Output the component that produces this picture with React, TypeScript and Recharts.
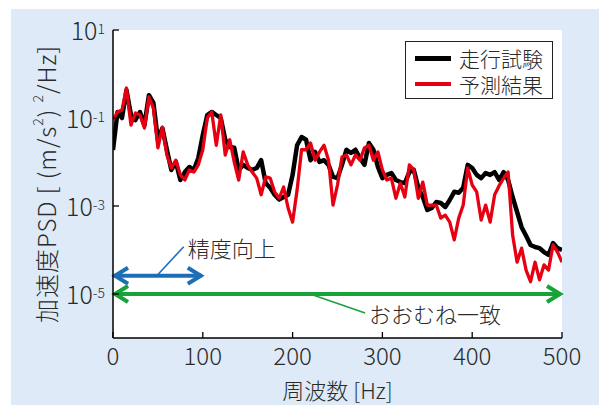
import React from "react";
import { LineChart, Line, XAxis, YAxis, CartesianGrid, Legend, ReferenceLine } from "recharts";

// frequency [Hz]
const freq = [
  0, 5, 10, 15, 20, 25, 30, 35, 40, 45,
  50, 55, 60, 65, 70, 75, 80, 85, 90, 95,
  100, 105, 110, 115, 120, 125, 130, 135, 140, 145,
  150, 155, 160, 165, 170, 175, 180, 185, 190, 195,
  200, 205, 210, 215, 220, 225, 230, 235, 240, 245,
  250, 255, 260, 265, 270, 275, 280, 285, 290, 295,
  300, 305, 310, 315, 320, 325, 330, 335, 340, 345,
  350, 355, 360, 365, 370, 375, 380, 385, 390, 395,
  400, 405, 410, 415, 420, 425, 430, 435, 440, 445,
  450, 455, 460, 465, 470, 475, 480, 485, 490, 495,
  500,
];

// 走行試験 (measured)
const testPSD = [
  0.0187, 0.137, 0.1, 0.43, 0.117, 0.09, 0.137, 0.069, 0.33, 0.22,
  0.032, 0.059, 0.019, 0.0066, 0.01, 0.0039, 0.0059, 0.0077, 0.0066, 0.0123,
  0.041, 0.117, 0.137, 0.117, 0.1, 0.032, 0.022, 0.021, 0.0066, 0.0086,
  0.0073, 0.0066, 0.0073, 0.011, 0.0033, 0.0026, 0.0018, 0.0014, 0.0016, 0.0018,
  0.0051, 0.024, 0.037, 0.032, 0.011, 0.017, 0.01, 0.011, 0.0086, 0.0046,
  0.0043, 0.0086, 0.019, 0.016, 0.019, 0.0123, 0.0086, 0.027, 0.019, 0.0077,
  0.0043, 0.0051, 0.0056, 0.0039, 0.0035, 0.0033, 0.0059, 0.0066, 0.0026, 0.0016,
  0.00081, 0.0009, 0.00123, 0.00117, 0.00095, 0.00137, 0.0021, 0.002, 0.0026, 0.0086,
  0.0073, 0.0051, 0.0043, 0.0056, 0.0051, 0.0059, 0.0039, 0.0059, 0.0039, 0.0016,
  0.00073, 0.00033, 0.00021, 0.00013, 0.000117, 0.00011, 0.00009, 0.000077, 0.000144, 0.00011,
  0.0001,
];

// 予測結果 (predicted)
const predPSD = [
  0.09, 0.137, 0.152, 0.48, 0.069, 0.13, 0.117, 0.059, 0.3, 0.17,
  0.021, 0.062, 0.0144, 0.0073, 0.011, 0.0051, 0.0039, 0.0066, 0.0059, 0.0086,
  0.019, 0.1, 0.137, 0.024, 0.117, 0.0144, 0.032, 0.01, 0.0039, 0.017,
  0.0086, 0.0059, 0.0043, 0.0018, 0.0046, 0.0043, 0.0021, 0.0015, 0.0027, 0.0009,
  0.00043, 0.0023, 0.019, 0.019, 0.027, 0.011, 0.017, 0.024, 0.011, 0.00105,
  0.003, 0.013, 0.0144, 0.0086, 0.0144, 0.011, 0.021, 0.024, 0.011, 0.017,
  0.0066, 0.0039, 0.0043, 0.0015, 0.0033, 0.0016, 0.0086, 0.0066, 0.0015, 0.0035,
  0.00105, 0.00105, 0.00105, 0.00053, 0.00062, 0.00043, 0.00017, 0.00053, 0.00105, 0.0073,
  0.003, 0.0021, 0.00048, 0.00105, 0.00043, 0.0018, 0.0029, 0.0043, 0.0059, 0.00022,
  0.000053, 0.00011, 0.000035, 0.000019, 0.000053, 0.000021, 0.000046, 0.000035, 0.00013, 0.00009,
  0.000053,
];

const seriesNames = ["走行試験", "予測結果"];
const xTicks = [0, 100, 200, 300, 400, 500];
const yTicks = [1e-5, 1e-3, 1e-1, 10];

const data = freq.map((f, i) => ({ f, meas: testPSD[i], pred: predPSD[i] }));

const FONT = "'Noto Sans CJK JP', 'Noto Sans', sans-serif";
const TXT = "#2a2a2a";
const W = 300;

const XTick = ({ x, y, payload }: any) => (
  <g>
    <line x1={x} x2={x} y1={y} y2={y - 6} stroke="#000" strokeWidth={1.3} />
    <text x={x} y={y + 27} textAnchor="middle" fontSize={24} fontWeight={W} fill={TXT} fontFamily={FONT}>
      {payload.value}
    </text>
  </g>
);

const TopTick = ({ x, y }: any) => (
  <line x1={x} x2={x} y1={y} y2={y + 6} stroke="#000" strokeWidth={1.3} />
);

const YTick = ({ x, y, payload }: any) => {
  const exp = Math.round(Math.log10(payload.value));
  return (
    <g>
      <line x1={x} x2={x + 6} y1={y} y2={y} stroke="#000" strokeWidth={1.3} />
      <text x={x - 8} y={y + 10} textAnchor="end" fontSize={25} fontWeight={W} fill={TXT} fontFamily={FONT}>
        <tspan>10</tspan>
        <tspan dy={-6} fontSize={14}>{exp}</tspan>
      </text>
    </g>
  );
};

const RightTick = ({ x, y }: any) => (
  <line x1={x} x2={x - 6} y1={y} y2={y} stroke="#000" strokeWidth={1.3} />
);

const YLabel = ({ viewBox }: any) => {
  const cx = viewBox.x + 45;
  const cy = viewBox.y + viewBox.height / 2;
  return (
    <text
      x={cx} y={cy} transform={`rotate(-90, ${cx}, ${cy})`}
      textAnchor="middle" dominantBaseline="central" letterSpacing={1}
      fontSize={24} fontWeight={W} fill={TXT} fontFamily={FONT}
    >
      <tspan>加速度PSD [ (m/s</tspan>
      <tspan dy={-8} fontSize={14}>2</tspan>
      <tspan dy={8}>) </tspan>
      <tspan dy={-8} fontSize={14}>2</tspan>
      <tspan dy={8}>/Hz]</tspan>
    </text>
  );
};

const XLabel = ({ viewBox }: any) => (
  <text
    x={viewBox.x + viewBox.width / 2} y={viewBox.y + 51}
    textAnchor="middle" dominantBaseline="central"
    fontSize={22} fontWeight={W} fill={TXT} fontFamily={FONT}
  >
    周波数 [Hz]
  </text>
);

// double-headed arrow with a leader line to its caption
const arrow = (color: string, caption: string, frac: number, ldx: number, ldy: number) => (props: any) => {
  const { x1, y1, x2 } = props;
  const lx = x1 + (x2 - x1) * frac;
  const ex = lx + ldx;
  const ey = y1 + ldy;
  return (
    <g>
      <line x1={x1 + 1} x2={x2 - 1} y1={y1} y2={y1} stroke={color} strokeWidth={4} />
      <polyline points={`${x1 + 15},${y1 - 8} ${x1 + 2},${y1} ${x1 + 15},${y1 + 8}`}
        fill="none" stroke={color} strokeWidth={4} strokeLinejoin="miter" />
      <polyline points={`${x2 - 15},${y1 - 8} ${x2 - 2},${y1} ${x2 - 15},${y1 + 8}`}
        fill="none" stroke={color} strokeWidth={4} strokeLinejoin="miter" />
      <line x1={lx} y1={y1} x2={ex} y2={ey} stroke={color} strokeWidth={1.6} />
      <text x={ex + 4} y={ey} dominantBaseline="central" fontSize={22} fontWeight={W} fill={TXT} fontFamily={FONT}>
        {caption}
      </text>
    </g>
  );
};

const LegendBox = ({ payload }: any) => {
  const items = seriesNames.map((n) => (payload || []).find((e: any) => e.value === n)).filter(Boolean);
  return (
    <div
      style={{
        width: 148, height: 58, boxSizing: "border-box", border: "1.5px solid #222",
        background: "#fff", paddingTop: 3, fontFamily: FONT,
      }}
    >
      {items.map((e: any) => (
        <div key={e.value} style={{ display: "flex", alignItems: "center", height: 26 }}>
          <span style={{ display: "inline-block", width: 36, height: e.color === "#000" ? 5 : 4, background: e.color, marginLeft: 9 }} />
          <span style={{ marginLeft: 8, fontSize: 21, fontWeight: W, color: TXT, lineHeight: "24px" }}>{e.value}</span>
        </div>
      ))}
    </div>
  );
};

export default function App() {
  return (
    <div style={{ position: "absolute", left: 0, top: 0, width: 599, height: 405, background: "#fff", overflow: "hidden" }}>
      <div style={{ position: "absolute", left: 11, top: 9, right: 0, bottom: 0, background: "#deeaf7" }} />
      <div style={{ position: "absolute", left: 0, top: 0 }}>
        <LineChart width={599} height={405} data={data} margin={{ top: 30, right: 37, left: 0, bottom: 0 }}>
          <CartesianGrid fill="#fff" fillOpacity={1} stroke="none" horizontal={false} vertical={false} />
          <XAxis
            dataKey="f" type="number" domain={[0, 500]} ticks={xTicks} interval={0} allowDataOverflow
            height={67} tickSize={0} tickMargin={0} tickLine={false} tick={XTick}
            axisLine={{ stroke: "#000", strokeWidth: 1.5 }} label={XLabel}
          />
          <XAxis
            xAxisId="top" orientation="top" dataKey="f" type="number" domain={[0, 500]} ticks={xTicks}
            interval={0} allowDataOverflow height={0} tickSize={0} tickMargin={0} tickLine={false}
            tick={TopTick} axisLine={{ stroke: "#000", strokeWidth: 1.5 }}
          />
          <YAxis
            type="number" scale="log" domain={[1e-6, 10]} ticks={yTicks} interval={0} allowDataOverflow
            width={113} tickSize={0} tickMargin={0} tickLine={false} tick={YTick}
            axisLine={{ stroke: "#000", strokeWidth: 1.5 }} label={YLabel}
          />
          <YAxis
            yAxisId="right" orientation="right" type="number" scale="log" domain={[1e-6, 10]} ticks={yTicks}
            interval={0} allowDataOverflow width={0} tickSize={0} tickMargin={0} tickLine={false}
            tick={RightTick} axisLine={{ stroke: "#000", strokeWidth: 1.5 }}
          />
          <Legend
            layout="vertical" align="center" verticalAlign="middle" content={LegendBox}
            wrapperStyle={{ position: "absolute", top: 41, left: 405, width: 148, height: 58 }}
          />
          <Line dataKey="meas" name={seriesNames[0]} stroke="#000" strokeWidth={4.5} dot={false} activeDot={false}
            strokeLinejoin="round" isAnimationActive={false} />
          <Line dataKey="pred" name={seriesNames[1]} stroke="#e60012" strokeWidth={3.3} dot={false} activeDot={false}
            strokeLinejoin="round" isAnimationActive={false} />
          <ReferenceLine
            segment={[{ x: 0, y: 2.6e-5 }, { x: 100, y: 2.6e-5 }]}
            shape={arrow("#1c6fb7", "精度向上", 0.487, 27, -29)}
          />
          <ReferenceLine
            segment={[{ x: 0, y: 1e-5 }, { x: 500, y: 1e-5 }]}
            shape={arrow("#18a33a", "おおむね一致", 0.439, 55, 19)}
          />
        </LineChart>
      </div>
    </div>
  );
}
